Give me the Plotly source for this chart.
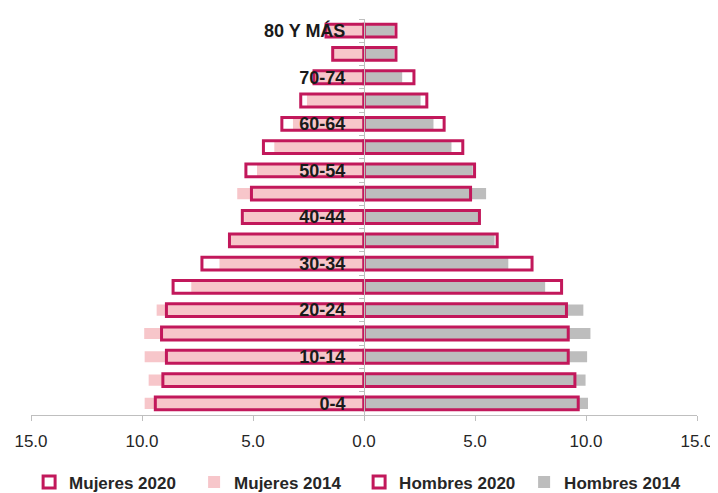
import plotly.graph_objects as go

age_groups = ["0-4", "5-9", "10-14", "15-19", "20-24", "25-29", "30-34", "35-39",
              "40-44", "45-49", "50-54", "55-59", "60-64", "65-69", "70-74", "75-79",
              "80 Y MÁS"]

mujeres_2020 = [9.40, 9.06, 8.90, 9.12, 8.90, 8.60, 7.30, 6.06, 5.48, 5.07, 5.32,
                4.53, 3.70, 2.85, 2.25, 1.41, 1.71]
mujeres_2014 = [9.88, 9.70, 9.88, 9.90, 9.34, 7.78, 6.51, 6.00, 5.40, 5.71, 4.82,
                4.04, 3.20, 2.57, 2.10, 1.40, 1.62]
hombres_2020 = [9.65, 9.50, 9.20, 9.20, 9.12, 8.90, 7.57, 6.00, 5.20, 4.80, 4.98,
                4.45, 3.61, 2.83, 2.25, 1.44, 1.44]
hombres_2014 = [10.09, 9.98, 10.05, 10.20, 9.88, 8.16, 6.50, 5.88, 5.15, 5.50, 4.90,
                3.94, 3.13, 2.55, 1.72, 1.35, 1.35]

x_tick_vals = [-15, -10, -5, 0, 5, 10, 15]
x_tick_text = ["15.0", "10.0", "5.0", "0.0", "5.0", "10.0", "15.0"]

CRIMSON = "#C2185B"
PINK = "#F7C6CA"
GREY = "#BDBDBD"
FONT = "Liberation Sans"

fig = go.Figure()

fig.add_trace(go.Bar(
    y=age_groups, x=[-v for v in mujeres_2014], orientation="h",
    name="Mujeres 2014", width=0.48, legendrank=2,
    marker=dict(color=PINK, line=dict(width=0)),
))
fig.add_trace(go.Bar(
    y=age_groups, x=hombres_2014, orientation="h",
    name="Hombres 2014", width=0.48, legendrank=4,
    marker=dict(color=GREY, line=dict(width=0)),
))
fig.add_trace(go.Bar(
    y=age_groups, x=[-v for v in mujeres_2020], orientation="h",
    name="Mujeres 2020", width=0.55, legendrank=1,
    marker=dict(color="rgba(0,0,0,0)", line=dict(color=CRIMSON, width=3)),
))
fig.add_trace(go.Bar(
    y=age_groups, x=hombres_2020, orientation="h",
    name="Hombres 2020", width=0.55, legendrank=3,
    marker=dict(color="rgba(0,0,0,0)", line=dict(color=CRIMSON, width=3)),
))

fig.update_layout(
    width=718, height=493,
    barmode="overlay",
    paper_bgcolor="white", plot_bgcolor="white",
    margin=dict(l=23, r=29, t=11, b=86, autoexpand=False),
    font=dict(family=FONT, color="#262626"),
    showlegend=True,
    legend=dict(
        orientation="h", xref="container", yref="container",
        x=0.489, xanchor="center", y=0.0375, yanchor="middle",
        font=dict(family=FONT, size=17, color="#262626", weight="bold"),
        traceorder="normal", itemwidth=30, bgcolor="rgba(0,0,0,0)",
        entrywidth=120,
    ),
    xaxis=dict(
        range=[-15, 15], tickvals=x_tick_vals, ticktext=x_tick_text,
        showgrid=False, zeroline=False, automargin=False,
        showline=True, linecolor="#BFBFBF", linewidth=1,
        ticks="outside", ticklen=5, tickcolor="#BFBFBF",
        tickfont=dict(family=FONT, size=17, color="#262626"),
        ticklabelstandoff=6,
    ),
    yaxis=dict(
        type="category", categoryorder="array", categoryarray=age_groups,
        tickvals=age_groups,
        ticktext=[g if i % 2 == 0 else "" for i, g in enumerate(age_groups)],
        anchor="free", position=0.5, automargin=False,
        showgrid=False, zeroline=False,
        showline=True, linecolor="#BFBFBF", linewidth=1,
        ticks="outside", ticklen=5, tickcolor="#BFBFBF", tickson="boundaries",
        tickfont=dict(family=FONT, size=18, color="#1A1A1A", weight="bold"),
        ticklabelstandoff=15,
    ),
)

fig.write_html("out.html")
